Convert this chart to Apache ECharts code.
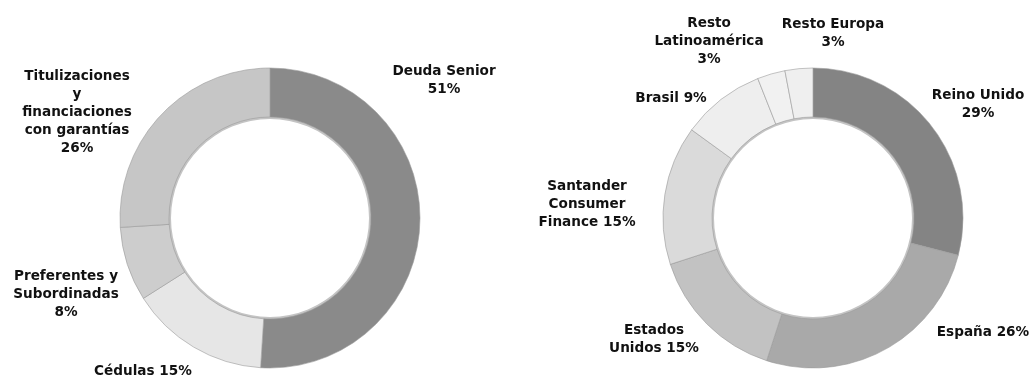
<!DOCTYPE html>
<html>
<head>
<meta charset="utf-8">
<script src="https://cdn.jsdelivr.net/npm/echarts@6/dist/echarts.min.js"></script>
<style>
  html, body { margin: 0; padding: 0; background: #ffffff; }
  #chart { width: 1032px; height: 380px; }
</style>
</head>
<body>
<div id="chart"></div>
<script>
// Funding by instrument (left ring)
const instrumentNames = ['Deuda Senior', 'Cédulas', 'Preferentes y\nSubordinadas', 'Titulizaciones\ny\nfinanciaciones\ncon garantías'];
const instrumentShares = [51, 15, 8, 26];
const instrumentSep = ['\n', ' ', '\n', '\n'];

// Funding by geography (right ring)
const regionNames = ['Reino Unido', 'España', 'Estados\nUnidos', 'Santander\nConsumer\nFinance', 'Brasil', 'Resto\nLatinoamérica', 'Resto Europa'];
const regionShares = [29, 26, 15, 15, 9, 3, 3];
const regionSep = ['\n', ' ', ' ', ' ', ' ', '\n', '\n'];

// Fill shades and label anchors for each slice
const instrumentColors = ['#8a8a8a', '#e6e6e6', '#cdcdcd', '#c6c6c6'];
const instrumentLabelPos = [[444, 80], [143, 371], [66, 294], [77, 112]];
const regionColors = ['#848484', '#a9a9a9', '#c2c2c2', '#dadada', '#eeeeee', '#f1f1f1', '#efefef'];
const regionLabelPos = [[978, 104], [983, 332], [654, 339], [587, 204], [671, 98], [709, 41], [833, 33]];

const labelFont = {
  fontFamily: 'DejaVu Sans',
  fontWeight: 'bold',
  fontSize: 13.6,
  lineHeight: 18,
  color: '#111111',
  align: 'center',
  overflow: 'none'
};

function ring(names, values, colors, seps, anchors, center) {
  return {
    type: 'pie',
    center: center,
    radius: [101, 150],
    startAngle: 90,
    clockwise: true,
    silent: true,
    animation: false,
    avoidLabelOverlap: false,
    itemStyle: { borderColor: '#9a9a9a', borderWidth: 0.6 },
    label: Object.assign({
      show: true,
      position: 'outside',
      formatter: p => p.name + seps[p.dataIndex] + p.value + '%'
    }, labelFont),
    labelLine: { show: false },
    labelLayout: p => ({
      x: anchors[p.dataIndex][0],
      y: anchors[p.dataIndex][1],
      align: 'center',
      verticalAlign: 'middle'
    }),
    data: names.map((n, i) => ({ name: n, value: values[i], itemStyle: { color: colors[i] } }))
  };
}

// Thin shaded edge along the inside of each ring
function innerEdge(center) {
  return {
    type: 'pie',
    center: center,
    radius: [99, 102],
    silent: true,
    animation: false,
    label: { show: false },
    labelLine: { show: false },
    itemStyle: { color: '#c4c4c4' },
    data: [{ value: 1 }]
  };
}

const chart = echarts.init(document.getElementById('chart'), null, { renderer: 'canvas' });
chart.setOption({
  backgroundColor: '#ffffff',
  series: [
    innerEdge([270, 218]),
    ring(instrumentNames, instrumentShares, instrumentColors, instrumentSep, instrumentLabelPos, [270, 218]),
    innerEdge([813, 218]),
    ring(regionNames, regionShares, regionColors, regionSep, regionLabelPos, [813, 218])
  ]
});
</script>
</body>
</html>
